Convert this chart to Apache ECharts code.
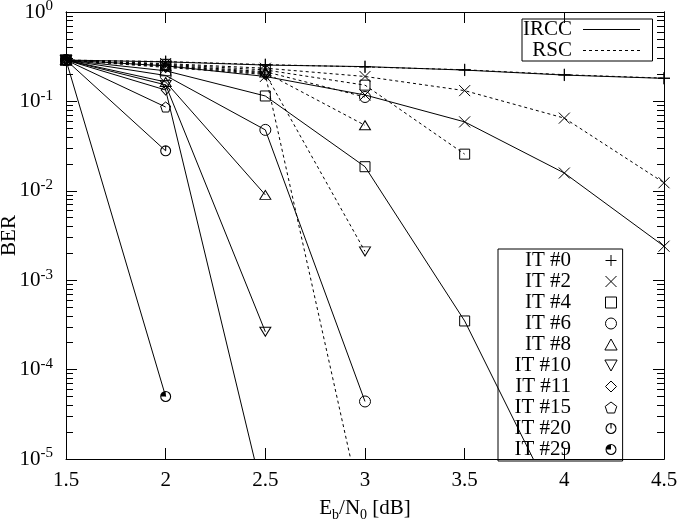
<!DOCTYPE html>
<html><head><meta charset="utf-8">
<script src="https://cdn.jsdelivr.net/npm/echarts@6/dist/echarts.min.js"></script>
<style>html,body{margin:0;padding:0;background:#fff}#c{width:679px;height:522px}</style>
</head><body><div id="c"></div>
<script>
// ---- data ----
const ebn0 = [1.5, 2, 2.5, 3, 3.5, 4, 4.5];
const itNames = ['IT #0', 'IT #2', 'IT #4', 'IT #6', 'IT #8', 'IT #10', 'IT #11', 'IT #15', 'IT #20', 'IT #29'];
// IRCC (solid) BER values, aligned with ebn0 from the first point
const irccIT0  = [0.29, 0.277, 0.255, 0.245, 0.224, 0.197, 0.181];
const irccIT2  = [0.29, 0.25, 0.19, 0.118, 0.059, 0.0158, 0.0024];
const irccIT4  = [0.29, 0.22, 0.115, 0.0186, 0.00035, 0.000002];
const irccIT6  = [0.29, 0.195, 0.048, 0.000044];
const irccIT8  = [0.29, 0.165, 0.009];
const irccIT10 = [0.29, 0.153, 0.000265];
const irccIT11 = [0.29, 0.134, 0.0000031];
const irccIT15 = [0.29, 0.0865];
const irccIT20 = [0.29, 0.028];
const irccIT29 = [0.29, 0.00005];
// RSC (dashed) BER values
const rscIT0  = [0.29, 0.279, 0.258, 0.243, 0.226, 0.199, 0.182];
const rscIT2  = [0.29, 0.265, 0.235, 0.19, 0.132, 0.065, 0.0123];
const rscIT4  = [0.29, 0.26, 0.225, 0.152, 0.0257];
const rscIT6  = [0.29, 0.255, 0.215, 0.112];
const rscIT8  = [0.29, 0.25, 0.21, 0.054];
const rscIT10 = [0.29, 0.245, 0.205, 0.0021];
const rscIT11 = [0.29, 0.24, 0.2, 0.0000019];
// y minor tick positions (multipliers per decade)
const minorMult = [2, 3, 4, 5, 6, 7, 8, 9];
const decades = [1e-5, 1e-4, 1e-3, 1e-2, 1e-1];

const irccData = [irccIT0, irccIT2, irccIT4, irccIT6, irccIT8, irccIT10, irccIT11, irccIT15, irccIT20, irccIT29];
const rscData = [rscIT0, rscIT2, rscIT4, rscIT6, rscIT8, rscIT10, rscIT11];

// ---- styles ----
const FONT = 'Liberation Serif';
const ring = 'M0,5A5,5,0,1,1,10,5A5,5,0,1,1,0,5ZM1,5A4,4,0,1,0,9,5A4,4,0,1,0,1,5Z';
const marks = [
  {sym: 'path://M0,6L12,6M6,0L6,12', size: 12, fill: false},
  {sym: 'path://M0,0L10,10M10,0L0,10', size: 11, fill: false},
  {sym: 'path://M0,0L10,0L10,10L0,10Z', size: 10, fill: false},
  {sym: 'path://M0,5A5,5,0,1,1,10,5A5,5,0,1,1,0,5Z', size: 11, fill: false},
  {sym: 'path://M5,0L10,9L0,9Z', size: [11, 9], fill: false},
  {sym: 'path://M0,0L10,0L5,9Z', size: [11, 9], fill: false},
  {sym: 'path://M5,0L10,5L5,10L0,5Z', size: [9, 10], fill: false},
  {sym: 'path://M5,0L10,3.8L8.1,9.5L1.9,9.5L0,3.8Z', size: 10, fill: false},
  {sym: 'path://' + ring + 'M4.5,0.5L5.5,0.5L5.5,5L4.5,5Z', size: 11, fill: true},
  {sym: 'path://' + ring + 'M5,5L1,5A4,4,0,0,1,5,1Z', size: 11, fill: true}
];
function itemStyleFor(m) {
  return m.fill ? {color: '#000', borderWidth: 0}
                : {color: 'rgba(0,0,0,0)', borderColor: '#000', borderWidth: 1};
}
function toPairs(vals) { return vals.map((v, i) => [ebn0[i], v]); }

const series = [];
irccData.forEach((vals, k) => {
  series.push({
    name: itNames[k], type: 'line', data: toPairs(vals),
    symbol: marks[k].sym, symbolSize: marks[k].size,
    itemStyle: itemStyleFor(marks[k]),
    lineStyle: {color: '#000', width: 1, type: 'solid'},
    z: 3
  });
});
rscData.forEach((vals, k) => {
  series.push({
    name: itNames[k], type: 'line', data: toPairs(vals),
    symbol: marks[k].sym, symbolSize: marks[k].size,
    itemStyle: itemStyleFor(marks[k]),
    lineStyle: {color: '#000', width: 1, type: [3, 3]},
    z: 2
  });
});
series.push({name: 'IRCC', type: 'line', data: [], symbol: 'none', lineStyle: {color: '#000', width: 1, type: 'solid'}, itemStyle: {color: 'rgba(0,0,0,0)', borderWidth: 0}});
series.push({name: 'RSC', type: 'line', data: [], symbol: 'none', lineStyle: {color: '#000', width: 1, type: [3, 3]}, itemStyle: {color: 'rgba(0,0,0,0)', borderWidth: 0}});

const minorTicks = [];
decades.forEach(d => minorMult.forEach(m => minorTicks.push(m * d)));

const yBase = {type: 'log', logBase: 10, min: 1e-5, max: 1, splitLine: {show: false},
  axisLine: {show: true, lineStyle: {color: '#000', width: 1}}};

const option = {
  animation: false,
  backgroundColor: '#fff',
  grid: {left: 66, right: 15, top: 12, bottom: 63, outerBoundsMode: 'none', containLabel: false},
  xAxis: [
    {type: 'value', min: 1.5, max: 4.5, interval: 0.5, position: 'bottom',
     splitLine: {show: false},
     axisLine: {lineStyle: {color: '#000', width: 1}},
     axisTick: {inside: true, length: 11, lineStyle: {color: '#000'}},
     axisLabel: {color: '#000', fontFamily: FONT, fontSize: 21, margin: 11},
     name: 'E{sub|b}/N{sub|0} [dB]', nameLocation: 'middle', nameGap: 35, nameMoveOverlap: false,
     nameTextStyle: {color: '#000', fontFamily: FONT, fontSize: 21, lineHeight: 28,
       rich: {sub: {fontFamily: FONT, fontSize: 14, lineHeight: 14, verticalAlign: 'bottom', color: '#000'}}}},
    {type: 'value', min: 1.5, max: 4.5, interval: 0.5, position: 'top',
     splitLine: {show: false},
     axisLine: {lineStyle: {color: '#000', width: 1}},
     axisTick: {inside: true, length: 11, lineStyle: {color: '#000'}},
     axisLabel: {show: false}}
  ],
  yAxis: [
    Object.assign({}, yBase, {position: 'left',
      axisTick: {inside: true, length: 11, lineStyle: {color: '#000'}},
      axisLabel: {margin: 13, color: '#000', fontFamily: FONT,
        formatter: v => '{b|10}{s|' + Math.round(Math.log10(v)) + '}',
        rich: {b: {fontFamily: FONT, fontSize: 21, lineHeight: 26, color: '#000'},
               s: {fontFamily: FONT, fontSize: 15, lineHeight: 15, verticalAlign: 'top', color: '#000'}}},
      name: 'BER', nameLocation: 'middle', nameGap: 46, nameMoveOverlap: false,
      nameTextStyle: {color: '#000', fontFamily: FONT, fontSize: 21}}),
    Object.assign({}, yBase, {position: 'right',
      axisTick: {inside: true, length: 11, lineStyle: {color: '#000'}},
      axisLabel: {show: false}}),
    Object.assign({}, yBase, {position: 'left',
      axisTick: {inside: true, length: 7, customValues: minorTicks, lineStyle: {color: '#000'}},
      axisLabel: {show: false}}),
    Object.assign({}, yBase, {position: 'right',
      axisTick: {inside: true, length: 7, customValues: minorTicks, lineStyle: {color: '#000'}},
      axisLabel: {show: false}})
  ],
  legend: [
    {data: ['IRCC', 'RSC'], orient: 'vertical', left: 522, top: 19, align: 'right',
     itemWidth: 57, itemHeight: 14, itemGap: 0, padding: [0, 12, 0, 1],
     borderColor: '#000', borderWidth: 1, selectedMode: false,
     lineStyle: {width: 1},
     formatter: '{a|{name}}',
     textStyle: {color: '#000', fontFamily: FONT, fontSize: 21, lineHeight: 20,
       rich: {a: {width: 49, align: 'right', padding: [0, 6, 0, 0], fontFamily: FONT, fontSize: 21, lineHeight: 20, color: '#000'}}}},
    {data: itNames.map((n, k) => ({name: n, icon: marks[k].sym})),
     orient: 'vertical', left: 498, top: 249, align: 'right',
     itemWidth: 70, itemHeight: 11, itemGap: 0, padding: [1, 5, 1, 1],
     borderColor: '#000', borderWidth: 1, selectedMode: false,
     itemStyle: {borderWidth: 1},
     formatter: '{a|{name}}',
     textStyle: {color: '#000', fontFamily: FONT, fontSize: 21, lineHeight: 20,
       rich: {a: {width: 72, align: 'right', fontFamily: FONT, fontSize: 21, lineHeight: 20, color: '#000'}}}}
  ],
  series: series
};
const chart = echarts.init(document.getElementById('c'), null, {renderer: 'canvas'});
chart.setOption(option);
</script>
</body></html>
